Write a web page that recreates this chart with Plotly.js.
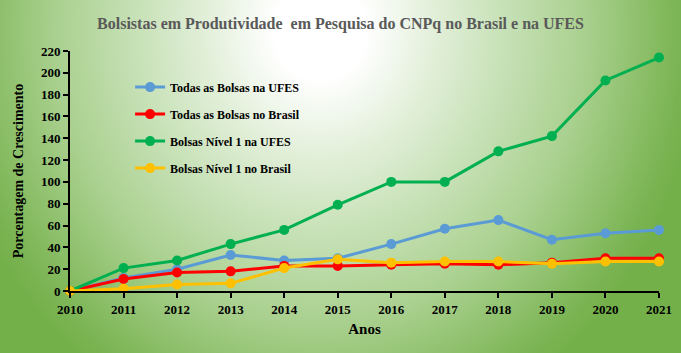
<!DOCTYPE html>
<html>
<head>
<meta charset="utf-8">
<script src="https://cdn.plot.ly/plotly-3.0.1.min.js"></script>
<style>
  html, body { margin: 0; padding: 0; }
  #chart {
    width: 681px; height: 353px;
    background: radial-gradient(ellipse 380px 420px at 320px 30px,
      #ffffff 0%, #ffffff 12%, #e2efd9 30%, #c5e0b4 50%, #a9d08e 70%, #7ab452 95%, #74b04a 100%);
  }
</style>
</head>
<body>
<div id="chart"></div>
<script>
const years = [2010, 2011, 2012, 2013, 2014, 2015, 2016, 2017, 2018, 2019, 2020, 2021];
const todasUFES   = [0, 12, 20, 33, 28, 30, 43, 57, 65, 47, 53, 56];
const todasBrasil = [0, 11, 17, 18, 23, 23, 24, 25, 24, 26, 30, 30];
const nivel1UFES  = [0, 21, 28, 43, 56, 79, 100, 100, 128, 142, 193, 214];
const nivel1Brasil= [0, 2, 6, 7, 21, 29, 26, 27, 27, 25, 27, 27];
const names = ["Todas as Bolsas na UFES", "Todas as Bolsas no Brasil", "Bolsas Nível 1 na UFES", "Bolsas Nível 1 no Brasil"];
const colors = ["#5b9bd5", "#ff0000", "#00b050", "#ffc000"];
const series = [todasUFES, todasBrasil, nivel1UFES, nivel1Brasil];

const serif = "Liberation Serif, Times New Roman, serif";
const traces = series.map((s, i) => ({
  x: years, y: s, name: names[i], type: "scatter", mode: "lines+markers",
  line: {color: colors[i], width: 3},
  marker: {color: colors[i], size: 10},
  legendgroup: "g" + i,
  cliponaxis: false
}));

const layout = {
  width: 681, height: 353,
  margin: {l: 70, r: 22, t: 51, b: 62},
  paper_bgcolor: "rgba(0,0,0,0)",
  plot_bgcolor: "rgba(0,0,0,0)",
  font: {family: serif, size: 13, color: "#000", weight: "bold"},
  title: {text: "Bolsistas em Produtividade  em Pesquisa do CNPq no Brasil e na UFES",
          x: 0.5, xanchor: "center", y: 0.935, yanchor: "middle",
          font: {family: serif, size: 16, color: "#595959", weight: "bold"}},
  xaxis: {
    range: [2010, 2021], tickmode: "array", tickvals: years, ticktext: years.map(String),
    showgrid: false, zeroline: false, showline: true, linecolor: "#000", linewidth: 2,
    ticks: "outside", ticklen: 5, tickwidth: 2, tickcolor: "#000",
    tickfont: {family: serif, size: 13, weight: "bold"},
    title: {text: "Anos", font: {family: serif, size: 15, weight: "bold"}, standoff: 8}
  },
  yaxis: {
    range: [0, 220], dtick: 20, tick0: 0,
    showgrid: false, zeroline: false, showline: true, linecolor: "#000", linewidth: 2,
    ticks: "outside", ticklen: 5, tickwidth: 2, tickcolor: "#000",
    tickfont: {family: serif, size: 13, weight: "bold"},
    title: {text: "Porcentagem de Crescimento", font: {family: serif, size: 14, weight: "bold"}, standoff: 14}
  },
  showlegend: true,
  legend: {x: 0.102, y: 0.91, xanchor: "left", yanchor: "top",
           bgcolor: "rgba(0,0,0,0)", font: {family: serif, size: 12, color: "#000", weight: "bold"},
           tracegroupgap: 8, itemwidth: 30}
};

Plotly.newPlot("chart", traces, layout, {displayModeBar: false, staticPlot: true});
</script>
</body>
</html>
